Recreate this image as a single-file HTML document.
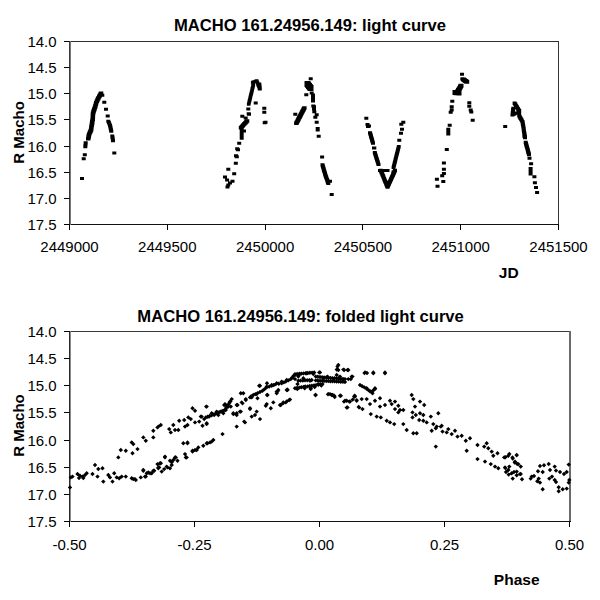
<!DOCTYPE html>
<html><head><meta charset="utf-8"><style>
html,body{margin:0;padding:0;background:#fff;width:600px;height:600px;overflow:hidden}
svg{display:block;font-family:"Liberation Sans",sans-serif;fill:#000}
</style></head><body>
<svg width="600" height="600" viewBox="0 0 600 600">
<rect x="69" y="41" width="490" height="1" fill="#2e2e2e"/>
<rect x="558" y="41" width="1" height="184" fill="#363636"/>
<rect x="69" y="224" width="490" height="1" fill="#111"/>
<rect x="69" y="41" width="1" height="184" fill="#3a3a3a"/>
<rect x="70" y="41" width="1" height="184" fill="#7a7a7a"/>
<path d="M64 41.5H69.5M64 67.5H69.5M64 93.5H69.5M64 119.5H69.5M64 146.5H69.5M64 172.5H69.5M64 198.5H69.5M64 224.5H69.5M69.5 224.5V230.0M167.5 224.5V230.0M265.5 224.5V230.0M362.5 224.5V230.0M460.5 224.5V230.0M558.5 224.5V230.0" stroke="#000" stroke-width="1"/>
<g font-size="15"><text x="56.6" y="47" text-anchor="end">14.0</text><text x="56.6" y="73.1" text-anchor="end">14.5</text><text x="56.6" y="99.3" text-anchor="end">15.0</text><text x="56.6" y="125.4" text-anchor="end">15.5</text><text x="56.6" y="151.6" text-anchor="end">16.0</text><text x="56.6" y="177.7" text-anchor="end">16.5</text><text x="56.6" y="203.9" text-anchor="end">17.0</text><text x="56.6" y="230" text-anchor="end">17.5</text><text x="69.5" y="251.7" text-anchor="middle">2449000</text><text x="167.3" y="251.7" text-anchor="middle">2449500</text><text x="265.1" y="251.7" text-anchor="middle">2450000</text><text x="362.9" y="251.7" text-anchor="middle">2450500</text><text x="460.7" y="251.7" text-anchor="middle">2451000</text><text x="558.5" y="251.7" text-anchor="middle">2451500</text></g>
<path d="M82.8 153.2h4v3h-4zM81.7 157.2h4v3h-4zM80 177h4v3h-4zM112.3 151.5h4v3h-4zM102.3 100.8h4v3h-4zM104 107.8h4v3h-4zM105.7 114.5h4v3h-4zM253.7 101.5h4v3h-4zM246.3 107.5h4v3h-4zM262.3 106.8h4v3h-4zM262.3 110.8h4v3h-4zM246.7 112.2h4v3h-4zM247 112.8h4v3h-4zM240.3 114.8h4v3h-4zM243.7 116.5h4v3h-4zM262.7 121.2h4v3h-4zM263.5 120.8h4v3h-4zM237.2 141.8h4v3h-4zM235.2 147.2h4v3h-4zM236 148.2h4v3h-4zM234 154.3h4v3h-4zM234.8 155.3h4v3h-4zM233.8 161.8h4v3h-4zM226.3 167.7h4v3h-4zM232.2 172.2h4v3h-4zM223 175.6h4v3h-4zM225.1 178.5h4v3h-4zM230.5 179.8h4v3h-4zM226.3 183.5h4v3h-4zM225.5 185.5h4v3h-4zM228 181.5h4v3h-4zM308.7 77.2h4v3h-4zM304.3 93.2h4v3h-4zM309.7 91.5h4v3h-4zM312 105.2h4v3h-4zM293.3 112.8h4v3h-4zM311.3 104.5h4v3h-4zM312 107.2h4v3h-4zM312.3 110.2h4v3h-4zM314.7 113.2h4v3h-4zM313.3 115.8h4v3h-4zM314.7 120.8h4v3h-4zM315.7 127h4v3h-4zM315.7 128.5h4v3h-4zM316.7 134.8h4v3h-4zM320.1 155.6h4v3h-4zM328 179.8h4v3h-4zM329.7 193.1h4v3h-4zM364.3 116.8h4v3h-4zM365.5 123h4v3h-4zM367 124.5h4v3h-4zM366 125h4v3h-4zM372.3 146.5h4v3h-4zM372 146.5h4v3h-4zM391.5 170.5h4v3h-4zM401.3 120.8h4v3h-4zM399.3 122.8h4v3h-4zM400 127.8h4v3h-4zM399 131.8h4v3h-4zM397.3 138.8h4v3h-4zM460 72.8h4v3h-4zM460.3 77.5h4v3h-4zM450.3 99.8h4v3h-4zM449.7 105.2h4v3h-4zM449.7 108.5h4v3h-4zM448.7 110.8h4v3h-4zM467.3 101.2h4v3h-4zM467.3 104.8h4v3h-4zM468.7 108.5h4v3h-4zM469.3 110.5h4v3h-4zM470.7 118.8h4v3h-4zM447.7 123.8h4v3h-4zM446.3 127.8h4v3h-4zM446.3 130h4v3h-4zM446.3 132.5h4v3h-4zM444.8 148h4v3h-4zM441.9 161.4h4v3h-4zM441.9 167.8h4v3h-4zM441.9 171.9h4v3h-4zM440.2 174.3h4v3h-4zM434.9 177.8h4v3h-4zM441.3 180.1h4v3h-4zM435.5 184.8h4v3h-4zM503.2 124.9h4v3h-4zM522.6 135.1h4v3h-4zM527.5 156.8h4v3h-4zM529.1 162.2h4v3h-4zM528.6 167.1h4v3h-4zM528.6 169.8h4v3h-4zM528.6 172.5h4v3h-4zM532.4 175.2h4v3h-4zM532.9 181.2h4v3h-4zM534 186h4v3h-4zM535.1 190.9h4v3h-4z" fill="#000"/>
<path d="M98.8 91.5h4.5v3.5h-4.5zM98.2 92.6h4.5v3.5h-4.5zM97.5 93.7h4.5v3.5h-4.5zM97 94.8h4.5v3.5h-4.5zM96.3 95.9h4.5v3.5h-4.5zM95.8 97h4.5v3.5h-4.5zM95.8 97h4.5v3.5h-4.5zM95.2 98.3h4.5v3.5h-4.5zM94.6 99.6h4.5v3.5h-4.5zM94 101h4.5v3.5h-4.5zM94 101h4.5v3.5h-4.5zM93.6 102.5h4.5v3.5h-4.5zM93.2 104h4.5v3.5h-4.5zM92.8 105.5h4.5v3.5h-4.5zM92.8 105.5h4.5v3.5h-4.5zM92.3 106.8h4.5v3.5h-4.5zM92 108h4.5v3.5h-4.5zM91.5 109.1h4.5v3.5h-4.5zM91.2 110.3h4.5v3.5h-4.5zM90.8 111.5h4.5v3.5h-4.5zM90.8 111.5h4.5v3.5h-4.5zM90.7 112.8h4.5v3.5h-4.5zM90.6 114h4.5v3.5h-4.5zM90.6 115.1h4.5v3.5h-4.5zM90.5 116.3h4.5v3.5h-4.5zM90.5 117.5h4.5v3.5h-4.5zM90.5 117.5h4.5v3.5h-4.5zM90.2 118.8h4.5v3.5h-4.5zM90 120h4.5v3.5h-4.5zM89.9 121.1h4.5v3.5h-4.5zM89.7 122.3h4.5v3.5h-4.5zM89.5 123.5h4.5v3.5h-4.5zM89.5 123.5h4.5v3.5h-4.5zM89.2 125.1h4.5v3.5h-4.5zM89 126.7h4.5v3.5h-4.5zM88.8 128.2h4.5v3.5h-4.5zM88.8 128.2h4.5v3.5h-4.5zM88.2 129.4h4.5v3.5h-4.5zM87.8 130.6h4.5v3.5h-4.5zM87.2 131.8h4.5v3.5h-4.5zM86.8 132.9h4.5v3.5h-4.5zM86.8 132.9h4.5v3.5h-4.5zM86.5 134.3h4.5v3.5h-4.5zM86.3 135.6h4.5v3.5h-4.5zM86 136.9h4.5v3.5h-4.5zM83.7 141.2h4v3h-4zM83.6 142.5h4v3h-4zM83.4 143.9h4v3h-4zM83.3 145.2h4v3h-4zM100.3 93.8h4v3h-4zM99 91.8h4v3h-4zM106.3 119.8h4v3h-4zM106.9 121.1h4v3h-4zM107.4 122.5h4v3h-4zM108 123.8h4v3h-4zM108 123.8h4v3h-4zM108.3 125h4v3h-4zM108.5 126.2h4v3h-4zM108.8 127.4h4v3h-4zM109 128.6h4v3h-4zM109.3 129.8h4v3h-4zM110.3 134.5h4v3h-4zM110.5 136.1h4v3h-4zM110.8 137.6h4v3h-4zM111 139.2h4v3h-4zM246.9 102.8h3.6v3h-3.6zM247.2 101.5h3.6v3h-3.6zM247.5 100.2h3.6v3h-3.6zM247.5 100.2h3.6v3h-3.6zM247.8 99h3.6v3h-3.6zM248.1 97.8h3.6v3h-3.6zM248.4 96.6h3.6v3h-3.6zM248.6 95.4h3.6v3h-3.6zM248.9 94.2h3.6v3h-3.6zM249.2 93h3.6v3h-3.6zM249.5 91.8h3.6v3h-3.6zM249.8 90.7h3.6v3h-3.6zM250.1 89.5h3.6v3h-3.6zM250.4 88.3h3.6v3h-3.6zM250.6 87.1h3.6v3h-3.6zM250.9 85.9h3.6v3h-3.6zM251.2 84.7h3.6v3h-3.6zM251.5 83.5h3.6v3h-3.6zM251.5 83.5h3.6v3h-3.6zM251.2 82.2h3.6v3h-3.6zM250.9 80.8h3.6v3h-3.6zM250.9 80.8h3.6v3h-3.6zM252.2 80.3h3.6v3h-3.6zM253.6 79.7h3.6v3h-3.6zM254.9 79.2h3.6v3h-3.6zM254.9 79.2h3.6v3h-3.6zM255.3 80.4h3.6v3h-3.6zM255.8 81.5h3.6v3h-3.6zM256.2 82.7h3.6v3h-3.6zM256.6 83.9h3.6v3h-3.6zM257.1 85h3.6v3h-3.6zM257.5 86.2h3.6v3h-3.6zM257.3 82.5h4v3h-4zM257.4 83.8h4v3h-4zM257.6 85h4v3h-4zM257.7 86.2h4v3h-4zM257.8 87.5h4v3h-4zM244.8 119.2h4.5v3.5h-4.5zM243.9 120.2h4.5v3.5h-4.5zM243 121.2h4.5v3.5h-4.5zM242.2 122.1h4.5v3.5h-4.5zM241.3 123.1h4.5v3.5h-4.5zM240.5 124h4.5v3.5h-4.5zM239.6 125h4.5v3.5h-4.5zM238.8 126h4.5v3.5h-4.5zM239.7 128.8h4v3h-4zM239.7 130.1h4v3h-4zM239.7 131.5h4v3h-4zM239.7 132.8h4v3h-4zM239.7 134.1h4v3h-4zM239.7 135.5h4v3h-4zM239.7 136.8h4v3h-4zM241 129.5h4v3h-4zM242 129.5h4v3h-4zM304.5 81h6v6h-6zM305.2 82h6v6h-6zM306 83h6v6h-6zM306.8 84h6v6h-6zM307.5 85h6v6h-6zM311 93.5h4v3h-4zM311 94.7h4v3h-4zM311 95.9h4v3h-4zM311 97.1h4v3h-4zM311 98.3h4v3h-4zM311 99.5h4v3h-4zM302.1 106.2h4.5v3.5h-4.5zM301.5 107.3h4.5v3.5h-4.5zM300.9 108.4h4.5v3.5h-4.5zM300.3 109.5h4.5v3.5h-4.5zM299.8 110.6h4.5v3.5h-4.5zM299.2 111.7h4.5v3.5h-4.5zM298.6 112.8h4.5v3.5h-4.5zM298.1 113.9h4.5v3.5h-4.5zM297.5 115h4.5v3.5h-4.5zM296.9 116.1h4.5v3.5h-4.5zM296.3 117.2h4.5v3.5h-4.5zM295.8 118.3h4.5v3.5h-4.5zM295.2 119.4h4.5v3.5h-4.5zM294.6 120.5h4.5v3.5h-4.5zM294.1 121.5h4.5v3.5h-4.5zM320.5 163.2h4v3.5h-4zM320.9 164.5h4v3.5h-4zM321.2 165.8h4v3.5h-4zM321.6 167h4v3.5h-4zM321.9 168.2h4v3.5h-4zM322.3 169.5h4v3.5h-4zM322.7 170.8h4v3.5h-4zM323 172h4v3.5h-4zM323.4 173.2h4v3.5h-4zM323.4 173.2h4v3.5h-4zM323.8 174.4h4v3.5h-4zM324.2 175.6h4v3.5h-4zM324.6 176.8h4v3.5h-4zM325.1 178h4v3.5h-4zM325.5 179.2h4v3.5h-4zM325.9 180.4h4v3.5h-4zM326.3 181.6h4v3.5h-4zM368 131.2h4v3h-4zM368.3 132.4h4v3h-4zM368.7 133.6h4v3h-4zM369 134.7h4v3h-4zM369.3 135.9h4v3h-4zM369.7 137.1h4v3h-4zM370 138.3h4v3h-4zM370.3 139.4h4v3h-4zM370.7 140.6h4v3h-4zM371 141.8h4v3h-4zM372.8 151h4v3h-4zM373.1 152.2h4v3h-4zM373.5 153.4h4v3h-4zM373.9 154.6h4v3h-4zM374.2 155.8h4v3h-4zM374.6 157h4v3h-4zM375 158.2h4v3h-4zM375.4 159.4h4v3h-4zM375.8 160.6h4v3h-4zM376.1 161.8h4v3h-4zM376.5 163h4v3h-4zM378.8 168.8h4v3.5h-4zM379.2 169.9h4v3.5h-4zM379.7 171.1h4v3.5h-4zM380.2 172.3h4v3.5h-4zM380.7 173.5h4v3.5h-4zM381.2 174.6h4v3.5h-4zM381.6 175.8h4v3.5h-4zM382.1 177h4v3.5h-4zM382.6 178.2h4v3.5h-4zM383.1 179.4h4v3.5h-4zM383.6 180.5h4v3.5h-4zM384.1 181.7h4v3.5h-4zM384.5 182.9h4v3.5h-4zM385 184.1h4v3.5h-4zM385.5 185.2h4v3.5h-4zM385.5 185.2h4v3.5h-4zM386 184.2h4v3.5h-4zM386.5 183.1h4v3.5h-4zM387 181.9h4v3.5h-4zM387.5 180.8h4v3.5h-4zM388 179.8h4v3.5h-4zM388.5 178.7h4v3.5h-4zM389 177.6h4v3.5h-4zM389.5 176.4h4v3.5h-4zM390 175.3h4v3.5h-4zM390.5 174.2h4v3.5h-4zM391 173.2h4v3.5h-4zM391.5 172.1h4v3.5h-4zM392 170.9h4v3.5h-4zM392.5 169.8h4v3.5h-4zM393 168.8h4v3.5h-4zM378 169h4v3h-4zM379.2 169h4v3h-4zM380.5 169h4v3h-4zM381.8 169h4v3h-4zM383 169h4v3h-4zM384.2 169h4v3h-4zM385.5 169h4v3h-4zM396.9 145h3.8v3h-3.8zM396.6 146.2h3.8v3h-3.8zM396.3 147.3h3.8v3h-3.8zM396 148.5h3.8v3h-3.8zM395.7 149.7h3.8v3h-3.8zM395.4 150.8h3.8v3h-3.8zM395.1 152h3.8v3h-3.8zM394.8 153.2h3.8v3h-3.8zM394.5 154.3h3.8v3h-3.8zM394.2 155.5h3.8v3h-3.8zM393.9 156.7h3.8v3h-3.8zM393.6 157.8h3.8v3h-3.8zM393.4 159h3.8v3h-3.8zM393.1 160.2h3.8v3h-3.8zM392.8 161.3h3.8v3h-3.8zM392.5 162.5h3.8v3h-3.8zM392.2 163.7h3.8v3h-3.8zM391.9 164.8h3.8v3h-3.8zM391.6 166h3.8v3h-3.8zM464.2 79.7h5v4h-5zM463.1 79h5v4h-5zM462.1 78.2h5v4h-5zM461 77.5h5v4h-5zM458.5 83.7h5v4h-5zM457.9 84.8h5v4h-5zM457.3 85.9h5v4h-5zM456.7 87h5v4h-5zM456 88h5v4h-5zM455.4 89.1h5v4h-5zM454.8 90.2h5v4h-5zM454.2 91.3h5v4h-5zM452.5 90h5v5h-5zM453.8 90.2h5v5h-5zM455.2 90.3h5v5h-5zM456.5 90.5h5v5h-5zM512.6 101.5h4v3.5h-4zM513.3 102.6h4v3.5h-4zM513.9 103.7h4v3.5h-4zM514.6 104.8h4v3.5h-4zM515.2 105.8h4v3.5h-4zM515.9 106.9h4v3.5h-4zM516.5 108h4v3.5h-4zM517.2 109h4v3.5h-4zM517.2 109h4v3.5h-4zM517.2 110.3h4v3.5h-4zM517.2 111.5h4v3.5h-4zM517.2 112.8h4v3.5h-4zM517.2 114h4v3.5h-4zM517.2 114h4v3.5h-4zM517.9 115.2h4v3.5h-4zM518.5 116.4h4v3.5h-4zM519.2 117.6h4v3.5h-4zM519.8 118.8h4v3.5h-4zM520.5 120h4v3.5h-4zM520.5 120h4v3.5h-4zM520.7 121.2h4v3.5h-4zM520.9 122.4h4v3.5h-4zM521.1 123.6h4v3.5h-4zM521.3 124.8h4v3.5h-4zM521.5 126h4v3.5h-4zM521.7 127.2h4v3.5h-4zM521.8 128.5h4v3.5h-4zM522 129.7h4v3.5h-4zM522.2 130.9h4v3.5h-4zM522.4 132.1h4v3.5h-4zM522.6 133.3h4v3.5h-4zM522.8 134.5h4v3.5h-4zM523 135.8h4v3.5h-4zM511.3 106.8h4v3h-4zM511.1 108.1h4v3h-4zM511 109.5h4v3h-4zM510.8 110.8h4v3h-4zM510.7 112.2h4v3h-4zM510.5 113.5h4v3h-4zM510.5 113.5h4v3h-4zM511.7 112.8h4v3h-4zM512.8 112.2h4v3h-4zM514 111.5h4v3h-4zM523.7 140.8h4v3.5h-4zM524 142h4v3.5h-4zM524.4 143.2h4v3.5h-4zM524.7 144.4h4v3.5h-4zM525 145.6h4v3.5h-4zM525.4 146.8h4v3.5h-4zM525.7 148h4v3.5h-4zM526 149.2h4v3.5h-4zM526.3 150.4h4v3.5h-4zM526.7 151.6h4v3.5h-4zM527 152.8h4v3.5h-4z" fill="#000"/>
<text x="310" y="30.5" text-anchor="middle" font-weight="bold" font-size="16.6">MACHO 161.24956.149: light curve</text>
<text x="508.75" y="277.8" text-anchor="middle" font-weight="bold" font-size="15.5">JD</text>
<text transform="translate(24,132.4) rotate(-90)" text-anchor="middle" font-weight="bold" font-size="15">R Macho</text>
<rect x="69" y="331" width="501" height="1" fill="#383838"/>
<rect x="569" y="331" width="2" height="191" fill="#6a6a6a"/>
<rect x="69" y="521" width="502" height="1" fill="#111"/>
<rect x="69" y="331" width="1" height="191" fill="#2a2a2a"/>
<rect x="70" y="331" width="1" height="191" fill="#8a8a8a"/>
<path d="M64 331.5H69.5M64 358.5H69.5M64 385.5H69.5M64 412.5H69.5M64 440.5H69.5M64 467.5H69.5M64 494.5H69.5M64 521.5H69.5M69.5 521.5V527.0M194.5 521.5V527.0M319.5 521.5V527.0M444.5 521.5V527.0M569.5 521.5V527.0" stroke="#000" stroke-width="1"/>
<g font-size="15"><text x="56.6" y="337" text-anchor="end">14.0</text><text x="56.6" y="364.1" text-anchor="end">14.5</text><text x="56.6" y="391.3" text-anchor="end">15.0</text><text x="56.6" y="418.4" text-anchor="end">15.5</text><text x="56.6" y="445.6" text-anchor="end">16.0</text><text x="56.6" y="472.7" text-anchor="end">16.5</text><text x="56.6" y="499.9" text-anchor="end">17.0</text><text x="56.6" y="527" text-anchor="end">17.5</text><text x="69.5" y="549.7" text-anchor="middle">-0.50</text><text x="194.5" y="549.7" text-anchor="middle">-0.25</text><text x="319.5" y="549.7" text-anchor="middle">0.00</text><text x="444.5" y="549.7" text-anchor="middle">0.25</text><text x="569.5" y="549.7" text-anchor="middle">0.50</text></g>
<path d="M70 485.2l2.2 2.2l-2.2 2.2l-2.2 -2.2zM70.8 475.2l2.2 2.2l-2.2 2.2l-2.2 -2.2zM72.5 474.4l2.2 2.2l-2.2 2.2l-2.2 -2.2zM77.5 471.8l2.2 2.2l-2.2 2.2l-2.2 -2.2zM80 473.6l2.2 2.2l-2.2 2.2l-2.2 -2.2zM82.5 474.4l2.2 2.2l-2.2 2.2l-2.2 -2.2zM85 472.8l2.2 2.2l-2.2 2.2l-2.2 -2.2zM86.7 471.1l2.2 2.2l-2.2 2.2l-2.2 -2.2zM79 475.8l2.2 2.2l-2.2 2.2l-2.2 -2.2zM83.3 475.8l2.2 2.2l-2.2 2.2l-2.2 -2.2zM92.5 471.8l2.2 2.2l-2.2 2.2l-2.2 -2.2zM95 462.8l2.2 2.2l-2.2 2.2l-2.2 -2.2zM97.5 474.4l2.2 2.2l-2.2 2.2l-2.2 -2.2zM98.3 466.8l2.2 2.2l-2.2 2.2l-2.2 -2.2zM102.5 466.1l2.2 2.2l-2.2 2.2l-2.2 -2.2zM103.3 479.4l2.2 2.2l-2.2 2.2l-2.2 -2.2zM108.3 472.8l2.2 2.2l-2.2 2.2l-2.2 -2.2zM110 475.2l2.2 2.2l-2.2 2.2l-2.2 -2.2zM112.5 479.4l2.2 2.2l-2.2 2.2l-2.2 -2.2zM114.2 471.1l2.2 2.2l-2.2 2.2l-2.2 -2.2zM116.7 475.2l2.2 2.2l-2.2 2.2l-2.2 -2.2zM119.2 476.1l2.2 2.2l-2.2 2.2l-2.2 -2.2zM121.7 474.4l2.2 2.2l-2.2 2.2l-2.2 -2.2zM125.8 474.4l2.2 2.2l-2.2 2.2l-2.2 -2.2zM131.7 476.1l2.2 2.2l-2.2 2.2l-2.2 -2.2zM135 476.9l2.2 2.2l-2.2 2.2l-2.2 -2.2zM140.8 475.2l2.2 2.2l-2.2 2.2l-2.2 -2.2zM143.3 467.8l2.2 2.2l-2.2 2.2l-2.2 -2.2zM145 474.4l2.2 2.2l-2.2 2.2l-2.2 -2.2zM146.7 471.1l2.2 2.2l-2.2 2.2l-2.2 -2.2zM150 471.1l2.2 2.2l-2.2 2.2l-2.2 -2.2zM153.3 468.6l2.2 2.2l-2.2 2.2l-2.2 -2.2zM157.5 461.9l2.2 2.2l-2.2 2.2l-2.2 -2.2zM158.3 466.1l2.2 2.2l-2.2 2.2l-2.2 -2.2zM118.3 455.2l2.2 2.2l-2.2 2.2l-2.2 -2.2zM120.8 447.8l2.2 2.2l-2.2 2.2l-2.2 -2.2zM125.8 448.6l2.2 2.2l-2.2 2.2l-2.2 -2.2zM131.7 440.2l2.2 2.2l-2.2 2.2l-2.2 -2.2zM132.5 451.1l2.2 2.2l-2.2 2.2l-2.2 -2.2zM133.3 441.9l2.2 2.2l-2.2 2.2l-2.2 -2.2zM137.5 446.9l2.2 2.2l-2.2 2.2l-2.2 -2.2zM143.3 435.2l2.2 2.2l-2.2 2.2l-2.2 -2.2zM145.8 438.6l2.2 2.2l-2.2 2.2l-2.2 -2.2zM153.3 428.6l2.2 2.2l-2.2 2.2l-2.2 -2.2zM153.3 435.2l2.2 2.2l-2.2 2.2l-2.2 -2.2zM158.3 424.4l2.2 2.2l-2.2 2.2l-2.2 -2.2zM157.5 425.2l2.2 2.2l-2.2 2.2l-2.2 -2.2zM160.8 422.8l2.2 2.2l-2.2 2.2l-2.2 -2.2zM169.2 426.9l2.2 2.2l-2.2 2.2l-2.2 -2.2zM170.8 430.2l2.2 2.2l-2.2 2.2l-2.2 -2.2zM173.3 422.8l2.2 2.2l-2.2 2.2l-2.2 -2.2zM175 427.8l2.2 2.2l-2.2 2.2l-2.2 -2.2zM178.3 427.8l2.2 2.2l-2.2 2.2l-2.2 -2.2zM179.2 418.6l2.2 2.2l-2.2 2.2l-2.2 -2.2zM184.2 417.8l2.2 2.2l-2.2 2.2l-2.2 -2.2zM185 424.4l2.2 2.2l-2.2 2.2l-2.2 -2.2zM187.5 422.8l2.2 2.2l-2.2 2.2l-2.2 -2.2zM188.3 415.2l2.2 2.2l-2.2 2.2l-2.2 -2.2zM190.8 416.9l2.2 2.2l-2.2 2.2l-2.2 -2.2zM192.5 406.1l2.2 2.2l-2.2 2.2l-2.2 -2.2zM195 408.6l2.2 2.2l-2.2 2.2l-2.2 -2.2zM195 420.2l2.2 2.2l-2.2 2.2l-2.2 -2.2zM199.2 419.4l2.2 2.2l-2.2 2.2l-2.2 -2.2zM200.8 414.4l2.2 2.2l-2.2 2.2l-2.2 -2.2zM202.5 423.6l2.2 2.2l-2.2 2.2l-2.2 -2.2zM204.2 416.9l2.2 2.2l-2.2 2.2l-2.2 -2.2zM206.7 404.4l2.2 2.2l-2.2 2.2l-2.2 -2.2zM206.7 421.9l2.2 2.2l-2.2 2.2l-2.2 -2.2zM209.2 414.4l2.2 2.2l-2.2 2.2l-2.2 -2.2zM211.7 411.1l2.2 2.2l-2.2 2.2l-2.2 -2.2zM214.2 412.8l2.2 2.2l-2.2 2.2l-2.2 -2.2zM216.7 409.4l2.2 2.2l-2.2 2.2l-2.2 -2.2zM218.3 412.8l2.2 2.2l-2.2 2.2l-2.2 -2.2zM220.8 409.4l2.2 2.2l-2.2 2.2l-2.2 -2.2zM223.3 411.1l2.2 2.2l-2.2 2.2l-2.2 -2.2zM224.2 402.8l2.2 2.2l-2.2 2.2l-2.2 -2.2zM225.8 407.8l2.2 2.2l-2.2 2.2l-2.2 -2.2zM228.3 404.4l2.2 2.2l-2.2 2.2l-2.2 -2.2zM230 399.4l2.2 2.2l-2.2 2.2l-2.2 -2.2zM231.7 396.9l2.2 2.2l-2.2 2.2l-2.2 -2.2zM233.3 411.1l2.2 2.2l-2.2 2.2l-2.2 -2.2zM236.7 412.8l2.2 2.2l-2.2 2.2l-2.2 -2.2zM236.7 424.4l2.2 2.2l-2.2 2.2l-2.2 -2.2zM237.5 402.8l2.2 2.2l-2.2 2.2l-2.2 -2.2zM240 409.4l2.2 2.2l-2.2 2.2l-2.2 -2.2zM240.8 391.1l2.2 2.2l-2.2 2.2l-2.2 -2.2zM243.3 391.1l2.2 2.2l-2.2 2.2l-2.2 -2.2zM241.7 400.2l2.2 2.2l-2.2 2.2l-2.2 -2.2zM245.8 396.9l2.2 2.2l-2.2 2.2l-2.2 -2.2zM245 420.2l2.2 2.2l-2.2 2.2l-2.2 -2.2zM250 406.1l2.2 2.2l-2.2 2.2l-2.2 -2.2zM250.8 394.4l2.2 2.2l-2.2 2.2l-2.2 -2.2zM251.7 414.4l2.2 2.2l-2.2 2.2l-2.2 -2.2zM222.5 431.9l2.2 2.2l-2.2 2.2l-2.2 -2.2zM213.3 437.8l2.2 2.2l-2.2 2.2l-2.2 -2.2zM210 440.2l2.2 2.2l-2.2 2.2l-2.2 -2.2zM206.7 441.1l2.2 2.2l-2.2 2.2l-2.2 -2.2zM203.3 443.6l2.2 2.2l-2.2 2.2l-2.2 -2.2zM198.3 445.2l2.2 2.2l-2.2 2.2l-2.2 -2.2zM195 447.8l2.2 2.2l-2.2 2.2l-2.2 -2.2zM192.5 449.4l2.2 2.2l-2.2 2.2l-2.2 -2.2zM187.5 441.1l2.2 2.2l-2.2 2.2l-2.2 -2.2zM183.3 441.1l2.2 2.2l-2.2 2.2l-2.2 -2.2zM185 451.9l2.2 2.2l-2.2 2.2l-2.2 -2.2zM185.8 455.2l2.2 2.2l-2.2 2.2l-2.2 -2.2zM175.8 455.2l2.2 2.2l-2.2 2.2l-2.2 -2.2zM173.3 457.8l2.2 2.2l-2.2 2.2l-2.2 -2.2zM171.7 460.2l2.2 2.2l-2.2 2.2l-2.2 -2.2zM165 455.2l2.2 2.2l-2.2 2.2l-2.2 -2.2zM160 461.1l2.2 2.2l-2.2 2.2l-2.2 -2.2zM158.3 465.2l2.2 2.2l-2.2 2.2l-2.2 -2.2zM166.7 464.4l2.2 2.2l-2.2 2.2l-2.2 -2.2zM170 466.1l2.2 2.2l-2.2 2.2l-2.2 -2.2zM251.7 395.2l2.2 2.2l-2.2 2.2l-2.2 -2.2zM256.7 391.9l2.2 2.2l-2.2 2.2l-2.2 -2.2zM259.2 383.6l2.2 2.2l-2.2 2.2l-2.2 -2.2zM262.5 388.6l2.2 2.2l-2.2 2.2l-2.2 -2.2zM266.7 384.4l2.2 2.2l-2.2 2.2l-2.2 -2.2zM267.5 392.8l2.2 2.2l-2.2 2.2l-2.2 -2.2zM271.7 382.8l2.2 2.2l-2.2 2.2l-2.2 -2.2zM276.7 381.1l2.2 2.2l-2.2 2.2l-2.2 -2.2zM277.5 389.4l2.2 2.2l-2.2 2.2l-2.2 -2.2zM281.7 379.4l2.2 2.2l-2.2 2.2l-2.2 -2.2zM286.7 377.8l2.2 2.2l-2.2 2.2l-2.2 -2.2zM287.5 387.8l2.2 2.2l-2.2 2.2l-2.2 -2.2zM291.7 376.1l2.2 2.2l-2.2 2.2l-2.2 -2.2zM295 372.8l2.2 2.2l-2.2 2.2l-2.2 -2.2zM298.3 378.6l2.2 2.2l-2.2 2.2l-2.2 -2.2zM296.7 386.1l2.2 2.2l-2.2 2.2l-2.2 -2.2zM300 371.9l2.2 2.2l-2.2 2.2l-2.2 -2.2zM303.3 376.1l2.2 2.2l-2.2 2.2l-2.2 -2.2zM305 384.4l2.2 2.2l-2.2 2.2l-2.2 -2.2zM306.7 371.1l2.2 2.2l-2.2 2.2l-2.2 -2.2zM310 378.6l2.2 2.2l-2.2 2.2l-2.2 -2.2zM310.8 386.1l2.2 2.2l-2.2 2.2l-2.2 -2.2zM313.3 371.9l2.2 2.2l-2.2 2.2l-2.2 -2.2zM315 383.6l2.2 2.2l-2.2 2.2l-2.2 -2.2zM315.8 392.8l2.2 2.2l-2.2 2.2l-2.2 -2.2zM319.2 370.2l2.2 2.2l-2.2 2.2l-2.2 -2.2zM318.3 381.9l2.2 2.2l-2.2 2.2l-2.2 -2.2zM321.7 382.8l2.2 2.2l-2.2 2.2l-2.2 -2.2zM323.3 376.1l2.2 2.2l-2.2 2.2l-2.2 -2.2zM327.5 374.4l2.2 2.2l-2.2 2.2l-2.2 -2.2zM328.3 391.9l2.2 2.2l-2.2 2.2l-2.2 -2.2zM331.7 392.8l2.2 2.2l-2.2 2.2l-2.2 -2.2zM333.3 377.8l2.2 2.2l-2.2 2.2l-2.2 -2.2zM336.7 372.8l2.2 2.2l-2.2 2.2l-2.2 -2.2zM337.5 364.4l2.2 2.2l-2.2 2.2l-2.2 -2.2zM338.3 367.8l2.2 2.2l-2.2 2.2l-2.2 -2.2zM340 374.4l2.2 2.2l-2.2 2.2l-2.2 -2.2zM340.8 393.6l2.2 2.2l-2.2 2.2l-2.2 -2.2zM344.2 367.8l2.2 2.2l-2.2 2.2l-2.2 -2.2zM345 376.9l2.2 2.2l-2.2 2.2l-2.2 -2.2zM348.3 367.8l2.2 2.2l-2.2 2.2l-2.2 -2.2zM345 398.6l2.2 2.2l-2.2 2.2l-2.2 -2.2zM347.5 405.2l2.2 2.2l-2.2 2.2l-2.2 -2.2zM250 406.9l2.2 2.2l-2.2 2.2l-2.2 -2.2zM256.7 409.4l2.2 2.2l-2.2 2.2l-2.2 -2.2zM255 412.8l2.2 2.2l-2.2 2.2l-2.2 -2.2zM251.7 414.4l2.2 2.2l-2.2 2.2l-2.2 -2.2zM260 416.9l2.2 2.2l-2.2 2.2l-2.2 -2.2zM265.8 403.6l2.2 2.2l-2.2 2.2l-2.2 -2.2zM270.8 406.1l2.2 2.2l-2.2 2.2l-2.2 -2.2zM273.3 400.2l2.2 2.2l-2.2 2.2l-2.2 -2.2zM276.7 391.1l2.2 2.2l-2.2 2.2l-2.2 -2.2zM280.8 402.8l2.2 2.2l-2.2 2.2l-2.2 -2.2zM285.8 400.2l2.2 2.2l-2.2 2.2l-2.2 -2.2zM289.2 397.8l2.2 2.2l-2.2 2.2l-2.2 -2.2zM286.7 387.8l2.2 2.2l-2.2 2.2l-2.2 -2.2zM347.5 367.8l2.2 2.2l-2.2 2.2l-2.2 -2.2zM348.3 376.9l2.2 2.2l-2.2 2.2l-2.2 -2.2zM351.7 374.4l2.2 2.2l-2.2 2.2l-2.2 -2.2zM365 370.2l2.2 2.2l-2.2 2.2l-2.2 -2.2zM373.3 370.2l2.2 2.2l-2.2 2.2l-2.2 -2.2zM385 370.2l2.2 2.2l-2.2 2.2l-2.2 -2.2zM360 382.8l2.2 2.2l-2.2 2.2l-2.2 -2.2zM366.7 386.1l2.2 2.2l-2.2 2.2l-2.2 -2.2zM370.8 389.4l2.2 2.2l-2.2 2.2l-2.2 -2.2zM375 386.9l2.2 2.2l-2.2 2.2l-2.2 -2.2zM372.5 391.1l2.2 2.2l-2.2 2.2l-2.2 -2.2zM346.7 398.6l2.2 2.2l-2.2 2.2l-2.2 -2.2zM350 399.4l2.2 2.2l-2.2 2.2l-2.2 -2.2zM355 394.4l2.2 2.2l-2.2 2.2l-2.2 -2.2zM356.7 398.6l2.2 2.2l-2.2 2.2l-2.2 -2.2zM361.7 396.9l2.2 2.2l-2.2 2.2l-2.2 -2.2zM366.7 396.9l2.2 2.2l-2.2 2.2l-2.2 -2.2zM370 401.9l2.2 2.2l-2.2 2.2l-2.2 -2.2zM375 398.6l2.2 2.2l-2.2 2.2l-2.2 -2.2zM380 396.1l2.2 2.2l-2.2 2.2l-2.2 -2.2zM380 404.4l2.2 2.2l-2.2 2.2l-2.2 -2.2zM385 402.8l2.2 2.2l-2.2 2.2l-2.2 -2.2zM347.5 405.2l2.2 2.2l-2.2 2.2l-2.2 -2.2zM359.2 405.2l2.2 2.2l-2.2 2.2l-2.2 -2.2zM362.5 406.9l2.2 2.2l-2.2 2.2l-2.2 -2.2zM390 398.6l2.2 2.2l-2.2 2.2l-2.2 -2.2zM391.7 401.9l2.2 2.2l-2.2 2.2l-2.2 -2.2zM395 399.4l2.2 2.2l-2.2 2.2l-2.2 -2.2zM395 406.9l2.2 2.2l-2.2 2.2l-2.2 -2.2zM398.3 403.6l2.2 2.2l-2.2 2.2l-2.2 -2.2zM400 407.8l2.2 2.2l-2.2 2.2l-2.2 -2.2zM403.3 407.8l2.2 2.2l-2.2 2.2l-2.2 -2.2zM398.3 410.2l2.2 2.2l-2.2 2.2l-2.2 -2.2zM411.7 392.8l2.2 2.2l-2.2 2.2l-2.2 -2.2zM413.3 396.9l2.2 2.2l-2.2 2.2l-2.2 -2.2zM420 399.4l2.2 2.2l-2.2 2.2l-2.2 -2.2zM424.2 402.8l2.2 2.2l-2.2 2.2l-2.2 -2.2zM415 404.4l2.2 2.2l-2.2 2.2l-2.2 -2.2zM412.5 410.2l2.2 2.2l-2.2 2.2l-2.2 -2.2zM415.8 412.8l2.2 2.2l-2.2 2.2l-2.2 -2.2zM412.5 415.2l2.2 2.2l-2.2 2.2l-2.2 -2.2zM420 411.1l2.2 2.2l-2.2 2.2l-2.2 -2.2zM423.3 412.8l2.2 2.2l-2.2 2.2l-2.2 -2.2zM419.2 417.8l2.2 2.2l-2.2 2.2l-2.2 -2.2zM423.3 418.6l2.2 2.2l-2.2 2.2l-2.2 -2.2zM426.7 420.2l2.2 2.2l-2.2 2.2l-2.2 -2.2zM430.8 414.4l2.2 2.2l-2.2 2.2l-2.2 -2.2zM438.3 411.1l2.2 2.2l-2.2 2.2l-2.2 -2.2zM433.3 421.9l2.2 2.2l-2.2 2.2l-2.2 -2.2zM435.8 426.1l2.2 2.2l-2.2 2.2l-2.2 -2.2zM431.7 428.6l2.2 2.2l-2.2 2.2l-2.2 -2.2zM440.8 424.4l2.2 2.2l-2.2 2.2l-2.2 -2.2zM442.5 429.4l2.2 2.2l-2.2 2.2l-2.2 -2.2zM370.8 411.9l2.2 2.2l-2.2 2.2l-2.2 -2.2zM376.7 414.4l2.2 2.2l-2.2 2.2l-2.2 -2.2zM380.8 415.2l2.2 2.2l-2.2 2.2l-2.2 -2.2zM386.7 418.6l2.2 2.2l-2.2 2.2l-2.2 -2.2zM390 420.2l2.2 2.2l-2.2 2.2l-2.2 -2.2zM394.2 421.9l2.2 2.2l-2.2 2.2l-2.2 -2.2zM403.3 421.9l2.2 2.2l-2.2 2.2l-2.2 -2.2zM406.7 427.8l2.2 2.2l-2.2 2.2l-2.2 -2.2zM413.3 431.1l2.2 2.2l-2.2 2.2l-2.2 -2.2zM416.7 431.1l2.2 2.2l-2.2 2.2l-2.2 -2.2zM436.7 424.4l2.2 2.2l-2.2 2.2l-2.2 -2.2zM441.7 423.6l2.2 2.2l-2.2 2.2l-2.2 -2.2zM442.5 429.4l2.2 2.2l-2.2 2.2l-2.2 -2.2zM446.7 430.2l2.2 2.2l-2.2 2.2l-2.2 -2.2zM448.3 426.9l2.2 2.2l-2.2 2.2l-2.2 -2.2zM451.7 431.9l2.2 2.2l-2.2 2.2l-2.2 -2.2zM455 428.6l2.2 2.2l-2.2 2.2l-2.2 -2.2zM457.5 434.4l2.2 2.2l-2.2 2.2l-2.2 -2.2zM461.7 433.6l2.2 2.2l-2.2 2.2l-2.2 -2.2zM465.8 438.6l2.2 2.2l-2.2 2.2l-2.2 -2.2zM470 436.1l2.2 2.2l-2.2 2.2l-2.2 -2.2zM466.7 448.6l2.2 2.2l-2.2 2.2l-2.2 -2.2zM477.5 442.8l2.2 2.2l-2.2 2.2l-2.2 -2.2zM484.2 444.4l2.2 2.2l-2.2 2.2l-2.2 -2.2zM486.7 441.1l2.2 2.2l-2.2 2.2l-2.2 -2.2zM488.3 446.1l2.2 2.2l-2.2 2.2l-2.2 -2.2zM491.7 449.4l2.2 2.2l-2.2 2.2l-2.2 -2.2zM493.3 453.6l2.2 2.2l-2.2 2.2l-2.2 -2.2zM497.5 451.1l2.2 2.2l-2.2 2.2l-2.2 -2.2zM477.5 456.9l2.2 2.2l-2.2 2.2l-2.2 -2.2zM485 459.4l2.2 2.2l-2.2 2.2l-2.2 -2.2zM490.8 461.9l2.2 2.2l-2.2 2.2l-2.2 -2.2zM495 464.4l2.2 2.2l-2.2 2.2l-2.2 -2.2zM498.3 466.1l2.2 2.2l-2.2 2.2l-2.2 -2.2zM504.2 455.2l2.2 2.2l-2.2 2.2l-2.2 -2.2zM508.3 453.6l2.2 2.2l-2.2 2.2l-2.2 -2.2zM512.5 455.2l2.2 2.2l-2.2 2.2l-2.2 -2.2zM516.7 452.8l2.2 2.2l-2.2 2.2l-2.2 -2.2zM515 459.4l2.2 2.2l-2.2 2.2l-2.2 -2.2zM518.3 461.9l2.2 2.2l-2.2 2.2l-2.2 -2.2zM520.8 464.4l2.2 2.2l-2.2 2.2l-2.2 -2.2zM505 465.2l2.2 2.2l-2.2 2.2l-2.2 -2.2zM508.3 467.8l2.2 2.2l-2.2 2.2l-2.2 -2.2zM511.7 471.1l2.2 2.2l-2.2 2.2l-2.2 -2.2zM516.7 469.4l2.2 2.2l-2.2 2.2l-2.2 -2.2zM520 471.9l2.2 2.2l-2.2 2.2l-2.2 -2.2zM531.7 474.4l2.2 2.2l-2.2 2.2l-2.2 -2.2zM435.8 444.4l2.2 2.2l-2.2 2.2l-2.2 -2.2zM505.3 455.1l2.2 2.2l-2.2 2.2l-2.2 -2.2zM509.3 451.8l2.2 2.2l-2.2 2.2l-2.2 -2.2zM512.7 456.4l2.2 2.2l-2.2 2.2l-2.2 -2.2zM516.7 453.1l2.2 2.2l-2.2 2.2l-2.2 -2.2zM514.7 460.4l2.2 2.2l-2.2 2.2l-2.2 -2.2zM517.3 461.8l2.2 2.2l-2.2 2.2l-2.2 -2.2zM520.7 464.4l2.2 2.2l-2.2 2.2l-2.2 -2.2zM505.3 465.8l2.2 2.2l-2.2 2.2l-2.2 -2.2zM509.3 464.4l2.2 2.2l-2.2 2.2l-2.2 -2.2zM506 469.8l2.2 2.2l-2.2 2.2l-2.2 -2.2zM508.7 472.4l2.2 2.2l-2.2 2.2l-2.2 -2.2zM514 469.8l2.2 2.2l-2.2 2.2l-2.2 -2.2zM516.7 473.1l2.2 2.2l-2.2 2.2l-2.2 -2.2zM520.7 471.8l2.2 2.2l-2.2 2.2l-2.2 -2.2zM512.7 476.4l2.2 2.2l-2.2 2.2l-2.2 -2.2zM522 477.1l2.2 2.2l-2.2 2.2l-2.2 -2.2zM530.7 476.4l2.2 2.2l-2.2 2.2l-2.2 -2.2zM534 473.8l2.2 2.2l-2.2 2.2l-2.2 -2.2zM538 469.1l2.2 2.2l-2.2 2.2l-2.2 -2.2zM542.7 469.8l2.2 2.2l-2.2 2.2l-2.2 -2.2zM540 463.8l2.2 2.2l-2.2 2.2l-2.2 -2.2zM544 463.1l2.2 2.2l-2.2 2.2l-2.2 -2.2zM548.7 461.8l2.2 2.2l-2.2 2.2l-2.2 -2.2zM550 467.8l2.2 2.2l-2.2 2.2l-2.2 -2.2zM554.7 464.4l2.2 2.2l-2.2 2.2l-2.2 -2.2zM556 468.4l2.2 2.2l-2.2 2.2l-2.2 -2.2zM560 469.8l2.2 2.2l-2.2 2.2l-2.2 -2.2zM564 471.8l2.2 2.2l-2.2 2.2l-2.2 -2.2zM566.7 469.8l2.2 2.2l-2.2 2.2l-2.2 -2.2zM568.7 462.4l2.2 2.2l-2.2 2.2l-2.2 -2.2zM538.7 476.4l2.2 2.2l-2.2 2.2l-2.2 -2.2zM537.3 479.1l2.2 2.2l-2.2 2.2l-2.2 -2.2zM540 480.4l2.2 2.2l-2.2 2.2l-2.2 -2.2zM549.3 476.4l2.2 2.2l-2.2 2.2l-2.2 -2.2zM552 474.4l2.2 2.2l-2.2 2.2l-2.2 -2.2zM554.7 477.8l2.2 2.2l-2.2 2.2l-2.2 -2.2zM556 479.8l2.2 2.2l-2.2 2.2l-2.2 -2.2zM542.7 487.1l2.2 2.2l-2.2 2.2l-2.2 -2.2zM558.7 485.1l2.2 2.2l-2.2 2.2l-2.2 -2.2zM558.7 489.1l2.2 2.2l-2.2 2.2l-2.2 -2.2zM562.7 487.1l2.2 2.2l-2.2 2.2l-2.2 -2.2zM566.7 486.4l2.2 2.2l-2.2 2.2l-2.2 -2.2zM568.7 480.4l2.2 2.2l-2.2 2.2l-2.2 -2.2zM569.3 477.8l2.2 2.2l-2.2 2.2l-2.2 -2.2zM132.5 441.1l2.2 2.2l-2.2 2.2l-2.2 -2.2zM137.5 446.9l2.2 2.2l-2.2 2.2l-2.2 -2.2zM132.5 451.1l2.2 2.2l-2.2 2.2l-2.2 -2.2zM145.8 438.6l2.2 2.2l-2.2 2.2l-2.2 -2.2zM133.3 476.9l2.2 2.2l-2.2 2.2l-2.2 -2.2zM135.8 477.8l2.2 2.2l-2.2 2.2l-2.2 -2.2zM140.8 475.2l2.2 2.2l-2.2 2.2l-2.2 -2.2zM143.3 468.6l2.2 2.2l-2.2 2.2l-2.2 -2.2zM145.8 474.4l2.2 2.2l-2.2 2.2l-2.2 -2.2zM148.3 470.2l2.2 2.2l-2.2 2.2l-2.2 -2.2zM151.7 471.1l2.2 2.2l-2.2 2.2l-2.2 -2.2zM154.2 468.6l2.2 2.2l-2.2 2.2l-2.2 -2.2zM157.5 461.9l2.2 2.2l-2.2 2.2l-2.2 -2.2zM159.2 465.2l2.2 2.2l-2.2 2.2l-2.2 -2.2zM160.8 461.1l2.2 2.2l-2.2 2.2l-2.2 -2.2zM161.7 469.4l2.2 2.2l-2.2 2.2l-2.2 -2.2zM164.2 466.9l2.2 2.2l-2.2 2.2l-2.2 -2.2zM167.5 465.2l2.2 2.2l-2.2 2.2l-2.2 -2.2zM165 454.4l2.2 2.2l-2.2 2.2l-2.2 -2.2zM170 458.6l2.2 2.2l-2.2 2.2l-2.2 -2.2zM171.7 462.8l2.2 2.2l-2.2 2.2l-2.2 -2.2zM175 455.2l2.2 2.2l-2.2 2.2l-2.2 -2.2zM177.5 458.6l2.2 2.2l-2.2 2.2l-2.2 -2.2zM185 451.9l2.2 2.2l-2.2 2.2l-2.2 -2.2zM186.7 455.2l2.2 2.2l-2.2 2.2l-2.2 -2.2zM183.3 441.1l2.2 2.2l-2.2 2.2l-2.2 -2.2zM187.5 440.2l2.2 2.2l-2.2 2.2l-2.2 -2.2zM192.5 448.6l2.2 2.2l-2.2 2.2l-2.2 -2.2zM196.7 447.8l2.2 2.2l-2.2 2.2l-2.2 -2.2zM198.3 445.2l2.2 2.2l-2.2 2.2l-2.2 -2.2zM203.3 443.6l2.2 2.2l-2.2 2.2l-2.2 -2.2zM207.5 441.1l2.2 2.2l-2.2 2.2l-2.2 -2.2zM211.7 439.4l2.2 2.2l-2.2 2.2l-2.2 -2.2zM287.3 387.4l2.2 2.2l-2.2 2.2l-2.2 -2.2zM297.3 386.8l2.2 2.2l-2.2 2.2l-2.2 -2.2zM304.7 386.1l2.2 2.2l-2.2 2.2l-2.2 -2.2zM310.7 386.8l2.2 2.2l-2.2 2.2l-2.2 -2.2zM314.7 384.8l2.2 2.2l-2.2 2.2l-2.2 -2.2zM321.3 383.4l2.2 2.2l-2.2 2.2l-2.2 -2.2zM315.3 392.8l2.2 2.2l-2.2 2.2l-2.2 -2.2zM328 392.1l2.2 2.2l-2.2 2.2l-2.2 -2.2zM332.7 392.8l2.2 2.2l-2.2 2.2l-2.2 -2.2zM334.7 394.8l2.2 2.2l-2.2 2.2l-2.2 -2.2zM340.7 393.4l2.2 2.2l-2.2 2.2l-2.2 -2.2zM344 399.4l2.2 2.2l-2.2 2.2l-2.2 -2.2zM349.3 399.4l2.2 2.2l-2.2 2.2l-2.2 -2.2zM352.7 397.4l2.2 2.2l-2.2 2.2l-2.2 -2.2zM354.7 393.4l2.2 2.2l-2.2 2.2l-2.2 -2.2zM356.7 398.1l2.2 2.2l-2.2 2.2l-2.2 -2.2zM346.7 405.4l2.2 2.2l-2.2 2.2l-2.2 -2.2zM358.7 404.8l2.2 2.2l-2.2 2.2l-2.2 -2.2zM280 402.8l2.2 2.2l-2.2 2.2l-2.2 -2.2zM283.3 400.9l2.2 2.2l-2.2 2.2l-2.2 -2.2zM286.7 399.2l2.2 2.2l-2.2 2.2l-2.2 -2.2zM290 397.4l2.2 2.2l-2.2 2.2l-2.2 -2.2zM260 383.6l2.2 2.2l-2.2 2.2l-2.2 -2.2zM267 381.1l2.2 2.2l-2.2 2.2l-2.2 -2.2zM267 392.8l2.2 2.2l-2.2 2.2l-2.2 -2.2zM276.7 389.4l2.2 2.2l-2.2 2.2l-2.2 -2.2zM278.3 387.8l2.2 2.2l-2.2 2.2l-2.2 -2.2zM287.5 387.4l2.2 2.2l-2.2 2.2l-2.2 -2.2zM296.7 386.1l2.2 2.2l-2.2 2.2l-2.2 -2.2zM297.5 381.9l2.2 2.2l-2.2 2.2l-2.2 -2.2zM298.3 374.4l2.2 2.2l-2.2 2.2l-2.2 -2.2zM273.3 400.2l2.2 2.2l-2.2 2.2l-2.2 -2.2zM266.7 401.9l2.2 2.2l-2.2 2.2l-2.2 -2.2zM283.3 400.2l2.2 2.2l-2.2 2.2l-2.2 -2.2zM289.2 397.8l2.2 2.2l-2.2 2.2l-2.2 -2.2zM257.5 396.1l2.2 2.2l-2.2 2.2l-2.2 -2.2zM338.3 362.8l2.2 2.2l-2.2 2.2l-2.2 -2.2zM336.7 367.4l2.2 2.2l-2.2 2.2l-2.2 -2.2zM343.3 367.4l2.2 2.2l-2.2 2.2l-2.2 -2.2zM320 370.2l2.2 2.2l-2.2 2.2l-2.2 -2.2zM315.4 392.8l2.2 2.2l-2.2 2.2l-2.2 -2.2zM330 391.9l2.2 2.2l-2.2 2.2l-2.2 -2.2zM334.2 393.6l2.2 2.2l-2.2 2.2l-2.2 -2.2zM340.8 393.6l2.2 2.2l-2.2 2.2l-2.2 -2.2zM344.2 367.8l2.2 2.2l-2.2 2.2l-2.2 -2.2zM348.3 367.8l2.2 2.2l-2.2 2.2l-2.2 -2.2zM343.3 376.9l2.2 2.2l-2.2 2.2l-2.2 -2.2zM352.5 374.4l2.2 2.2l-2.2 2.2l-2.2 -2.2zM350.8 376.9l2.2 2.2l-2.2 2.2l-2.2 -2.2zM364.5 370.8l2.2 2.2l-2.2 2.2l-2.2 -2.2zM367 370.8l2.2 2.2l-2.2 2.2l-2.2 -2.2zM373.3 371.1l2.2 2.2l-2.2 2.2l-2.2 -2.2zM385 371.1l2.2 2.2l-2.2 2.2l-2.2 -2.2zM340 393.6l2.2 2.2l-2.2 2.2l-2.2 -2.2zM354.2 394.4l2.2 2.2l-2.2 2.2l-2.2 -2.2zM240.8 391.1l2.2 2.2l-2.2 2.2l-2.2 -2.2zM245.8 397.8l2.2 2.2l-2.2 2.2l-2.2 -2.2zM242.5 401.1l2.2 2.2l-2.2 2.2l-2.2 -2.2zM236.7 402.8l2.2 2.2l-2.2 2.2l-2.2 -2.2zM236.7 411.1l2.2 2.2l-2.2 2.2l-2.2 -2.2zM240.8 409.4l2.2 2.2l-2.2 2.2l-2.2 -2.2zM233.3 411.9l2.2 2.2l-2.2 2.2l-2.2 -2.2zM225 401.9l2.2 2.2l-2.2 2.2l-2.2 -2.2zM230.8 404.4l2.2 2.2l-2.2 2.2l-2.2 -2.2zM206.2 404.4l2.2 2.2l-2.2 2.2l-2.2 -2.2zM201.7 414.4l2.2 2.2l-2.2 2.2l-2.2 -2.2zM206.7 421.1l2.2 2.2l-2.2 2.2l-2.2 -2.2zM244.2 419.4l2.2 2.2l-2.2 2.2l-2.2 -2.2zM250 395.2l2.2 2.2l-2.2 2.2l-2.2 -2.2zM251.7 394l2.2 2.2l-2.2 2.2l-2.2 -2.2zM253.3 392.8l2.2 2.2l-2.2 2.2l-2.2 -2.2zM253.3 392.8l2.2 2.2l-2.2 2.2l-2.2 -2.2zM255.4 391.9l2.2 2.2l-2.2 2.2l-2.2 -2.2zM257.5 391.1l2.2 2.2l-2.2 2.2l-2.2 -2.2zM257.5 391.1l2.2 2.2l-2.2 2.2l-2.2 -2.2zM260 389.8l2.2 2.2l-2.2 2.2l-2.2 -2.2zM262.5 388.6l2.2 2.2l-2.2 2.2l-2.2 -2.2zM262.5 388.6l2.2 2.2l-2.2 2.2l-2.2 -2.2zM264.6 386.9l2.2 2.2l-2.2 2.2l-2.2 -2.2zM266.7 385.2l2.2 2.2l-2.2 2.2l-2.2 -2.2zM266.7 385.2l2.2 2.2l-2.2 2.2l-2.2 -2.2zM269.2 384.4l2.2 2.2l-2.2 2.2l-2.2 -2.2zM271.7 383.6l2.2 2.2l-2.2 2.2l-2.2 -2.2zM271.7 383.6l2.2 2.2l-2.2 2.2l-2.2 -2.2zM273.8 382.8l2.2 2.2l-2.2 2.2l-2.2 -2.2zM275.8 381.9l2.2 2.2l-2.2 2.2l-2.2 -2.2zM275.8 381.9l2.2 2.2l-2.2 2.2l-2.2 -2.2zM278.8 381.5l2.2 2.2l-2.2 2.2l-2.2 -2.2zM281.7 381.1l2.2 2.2l-2.2 2.2l-2.2 -2.2zM281.7 381.1l2.2 2.2l-2.2 2.2l-2.2 -2.2zM283.8 380.2l2.2 2.2l-2.2 2.2l-2.2 -2.2zM285.8 379.4l2.2 2.2l-2.2 2.2l-2.2 -2.2zM285.8 379.4l2.2 2.2l-2.2 2.2l-2.2 -2.2zM288.3 378.2l2.2 2.2l-2.2 2.2l-2.2 -2.2zM290.8 376.9l2.2 2.2l-2.2 2.2l-2.2 -2.2zM290.8 376.9l2.2 2.2l-2.2 2.2l-2.2 -2.2zM292.2 375.3l2.2 2.2l-2.2 2.2l-2.2 -2.2zM293.6 373.6l2.2 2.2l-2.2 2.2l-2.2 -2.2zM295 371.9l2.2 2.2l-2.2 2.2l-2.2 -2.2zM295 371.9l2.2 2.2l-2.2 2.2l-2.2 -2.2zM297.1 371.8l2.2 2.2l-2.2 2.2l-2.2 -2.2zM299.3 371.6l2.2 2.2l-2.2 2.2l-2.2 -2.2zM301.4 371.4l2.2 2.2l-2.2 2.2l-2.2 -2.2zM303.5 371.2l2.2 2.2l-2.2 2.2l-2.2 -2.2zM305.7 371l2.2 2.2l-2.2 2.2l-2.2 -2.2zM307.8 370.8l2.2 2.2l-2.2 2.2l-2.2 -2.2zM309.9 370.6l2.2 2.2l-2.2 2.2l-2.2 -2.2zM312.1 370.4l2.2 2.2l-2.2 2.2l-2.2 -2.2zM314.2 370.2l2.2 2.2l-2.2 2.2l-2.2 -2.2zM295 376.9l2.2 2.2l-2.2 2.2l-2.2 -2.2zM298.3 378.6l2.2 2.2l-2.2 2.2l-2.2 -2.2zM298.3 378.6l2.2 2.2l-2.2 2.2l-2.2 -2.2zM300.5 378.4l2.2 2.2l-2.2 2.2l-2.2 -2.2zM302.8 378.3l2.2 2.2l-2.2 2.2l-2.2 -2.2zM305 378.1l2.2 2.2l-2.2 2.2l-2.2 -2.2zM307.2 378l2.2 2.2l-2.2 2.2l-2.2 -2.2zM309.5 377.9l2.2 2.2l-2.2 2.2l-2.2 -2.2zM311.7 377.8l2.2 2.2l-2.2 2.2l-2.2 -2.2zM315.8 374.4l2.2 2.2l-2.2 2.2l-2.2 -2.2zM317.9 374.6l2.2 2.2l-2.2 2.2l-2.2 -2.2zM320 374.8l2.2 2.2l-2.2 2.2l-2.2 -2.2zM322.1 375l2.2 2.2l-2.2 2.2l-2.2 -2.2zM324.1 375.2l2.2 2.2l-2.2 2.2l-2.2 -2.2zM326.2 375.3l2.2 2.2l-2.2 2.2l-2.2 -2.2zM328.3 375.5l2.2 2.2l-2.2 2.2l-2.2 -2.2zM330.4 375.7l2.2 2.2l-2.2 2.2l-2.2 -2.2zM332.5 375.9l2.2 2.2l-2.2 2.2l-2.2 -2.2zM334.6 376.1l2.2 2.2l-2.2 2.2l-2.2 -2.2zM336.7 376.2l2.2 2.2l-2.2 2.2l-2.2 -2.2zM338.7 376.4l2.2 2.2l-2.2 2.2l-2.2 -2.2zM340.8 376.6l2.2 2.2l-2.2 2.2l-2.2 -2.2zM342.9 376.8l2.2 2.2l-2.2 2.2l-2.2 -2.2zM345 376.9l2.2 2.2l-2.2 2.2l-2.2 -2.2zM315.8 378.2l2.2 2.2l-2.2 2.2l-2.2 -2.2zM317.9 378.4l2.2 2.2l-2.2 2.2l-2.2 -2.2zM320 378.5l2.2 2.2l-2.2 2.2l-2.2 -2.2zM322.1 378.6l2.2 2.2l-2.2 2.2l-2.2 -2.2zM324.1 378.7l2.2 2.2l-2.2 2.2l-2.2 -2.2zM326.2 378.8l2.2 2.2l-2.2 2.2l-2.2 -2.2zM328.3 378.9l2.2 2.2l-2.2 2.2l-2.2 -2.2zM330.4 379l2.2 2.2l-2.2 2.2l-2.2 -2.2zM332.5 379.1l2.2 2.2l-2.2 2.2l-2.2 -2.2zM334.6 379.2l2.2 2.2l-2.2 2.2l-2.2 -2.2zM336.7 379.3l2.2 2.2l-2.2 2.2l-2.2 -2.2zM338.7 379.4l2.2 2.2l-2.2 2.2l-2.2 -2.2zM340.8 379.5l2.2 2.2l-2.2 2.2l-2.2 -2.2zM342.9 379.6l2.2 2.2l-2.2 2.2l-2.2 -2.2zM345 379.8l2.2 2.2l-2.2 2.2l-2.2 -2.2zM295 386.1l2.2 2.2l-2.2 2.2l-2.2 -2.2zM297.1 385.7l2.2 2.2l-2.2 2.2l-2.2 -2.2zM299.2 385.4l2.2 2.2l-2.2 2.2l-2.2 -2.2zM301.3 385.1l2.2 2.2l-2.2 2.2l-2.2 -2.2zM303.5 384.8l2.2 2.2l-2.2 2.2l-2.2 -2.2zM305.6 384.5l2.2 2.2l-2.2 2.2l-2.2 -2.2zM307.7 384.2l2.2 2.2l-2.2 2.2l-2.2 -2.2zM309.8 383.8l2.2 2.2l-2.2 2.2l-2.2 -2.2zM311.9 383.5l2.2 2.2l-2.2 2.2l-2.2 -2.2zM314 383.2l2.2 2.2l-2.2 2.2l-2.2 -2.2zM316.2 382.9l2.2 2.2l-2.2 2.2l-2.2 -2.2zM318.3 382.6l2.2 2.2l-2.2 2.2l-2.2 -2.2zM320.4 382.3l2.2 2.2l-2.2 2.2l-2.2 -2.2zM322.5 381.9l2.2 2.2l-2.2 2.2l-2.2 -2.2zM360 382.8l2.2 2.2l-2.2 2.2l-2.2 -2.2zM362.2 384l2.2 2.2l-2.2 2.2l-2.2 -2.2zM364.5 385.2l2.2 2.2l-2.2 2.2l-2.2 -2.2zM366.7 386.5l2.2 2.2l-2.2 2.2l-2.2 -2.2zM366.7 386.5l2.2 2.2l-2.2 2.2l-2.2 -2.2zM368.4 387.8l2.2 2.2l-2.2 2.2l-2.2 -2.2zM370 389l2.2 2.2l-2.2 2.2l-2.2 -2.2zM371.7 390.2l2.2 2.2l-2.2 2.2l-2.2 -2.2zM371.7 390.2l2.2 2.2l-2.2 2.2l-2.2 -2.2zM373.4 388.1l2.2 2.2l-2.2 2.2l-2.2 -2.2zM375 386.1l2.2 2.2l-2.2 2.2l-2.2 -2.2zM205.8 415.2l2.2 2.2l-2.2 2.2l-2.2 -2.2zM207.7 414.5l2.2 2.2l-2.2 2.2l-2.2 -2.2zM209.6 413.8l2.2 2.2l-2.2 2.2l-2.2 -2.2zM211.6 413l2.2 2.2l-2.2 2.2l-2.2 -2.2zM213.5 412.2l2.2 2.2l-2.2 2.2l-2.2 -2.2zM215.4 411.5l2.2 2.2l-2.2 2.2l-2.2 -2.2zM217.3 410.8l2.2 2.2l-2.2 2.2l-2.2 -2.2zM219.2 410l2.2 2.2l-2.2 2.2l-2.2 -2.2zM221.2 409.2l2.2 2.2l-2.2 2.2l-2.2 -2.2zM223.1 408.5l2.2 2.2l-2.2 2.2l-2.2 -2.2zM225 407.8l2.2 2.2l-2.2 2.2l-2.2 -2.2zM225 407.8l2.2 2.2l-2.2 2.2l-2.2 -2.2zM226.1 405.9l2.2 2.2l-2.2 2.2l-2.2 -2.2zM227.2 404.1l2.2 2.2l-2.2 2.2l-2.2 -2.2zM228.3 402.4l2.2 2.2l-2.2 2.2l-2.2 -2.2zM229.5 400.6l2.2 2.2l-2.2 2.2l-2.2 -2.2zM230.6 398.8l2.2 2.2l-2.2 2.2l-2.2 -2.2zM231.7 396.9l2.2 2.2l-2.2 2.2l-2.2 -2.2z" fill="#000"/>
<text x="300.6" y="321.5" text-anchor="middle" font-weight="bold" font-size="16.6">MACHO 161.24956.149: folded light curve</text>
<text x="516.7" y="585" text-anchor="middle" font-weight="bold" font-size="15.5">Phase</text>
<text transform="translate(24,425.5) rotate(-90)" text-anchor="middle" font-weight="bold" font-size="15">R Macho</text>
</svg>
</body></html>
